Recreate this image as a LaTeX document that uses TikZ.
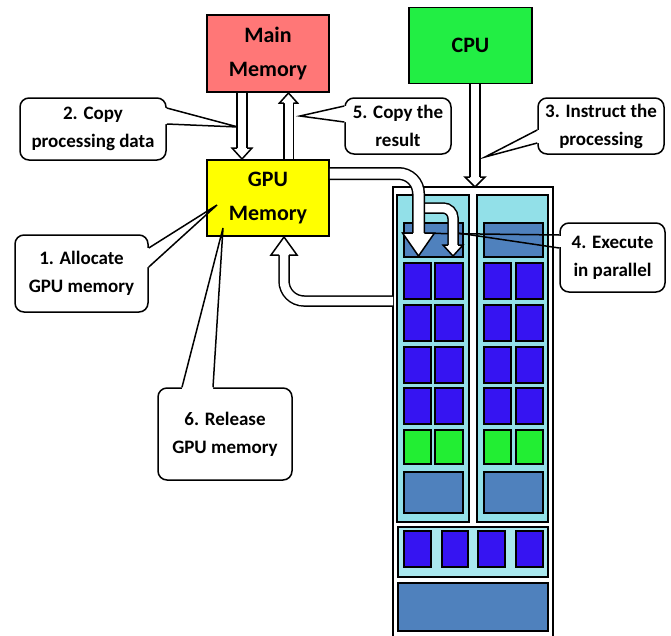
\documentclass[tikz,border=0pt]{standalone}
\usepackage{fontspec}
\setmainfont{Carlito}
\usetikzlibrary{calc}
\definecolor{mainred}{HTML}{FF7777}
\definecolor{gpuyellow}{HTML}{FFFF00}
\definecolor{cpugreen}{HTML}{22EE44}
\definecolor{smcyan}{HTML}{92E0E8}
\definecolor{lightcyan}{HTML}{AAE8EE}
\definecolor{steel}{HTML}{4F81BD}
\definecolor{coreblue}{HTML}{3614F2}
\definecolor{coregreen}{HTML}{22EE33}
\newcommand\ptrfill[4]{\fill[white] ($(#1)+(#4)$) -- (#1) -- (#3) -- (#2) -- ($(#2)+(#4)$) -- cycle;}
\newcommand\ptrline[3]{\draw[ptr] (#1) -- (#3) -- (#2);}
\begin{document}
\begin{tikzpicture}[x=1pt,y=-1pt,
  membox/.style={draw, line width=1.8pt, inner sep=0pt, align=center,
    font=\fontsize{22}{34}\selectfont\bfseries},
  callbox/.style={draw, line width=1.5pt, rounded corners=9pt, fill=white,
    inner sep=0pt, align=center, font=\fontsize{19}{28}\selectfont\bfseries},
  ptr/.style={line width=1.5pt, line join=miter},
  part/.style={draw, line width=1.6pt},
  shaft/.style={draw=black, line width=1.5pt, double=white, double distance=#1},
  headtip/.style={fill=white, draw=black, line width=1.5pt, line join=miter},
]
\useasboundingbox (0,0) rectangle (671,635);

% ---------- callout boxes ----------
\node[callbox, minimum width=146pt, minimum height=62pt] (c2) at (93,129) {2. Copy\\processing data};
\node[callbox, minimum width=106pt, minimum height=56pt] (c5) at (398,126) {5. Copy the\\result};
\node[callbox, minimum width=126pt, minimum height=56pt] (c3) at (601,126) {3. Instruct the\\processing};
\node[callbox, minimum width=105pt, minimum height=69pt] (c4) at (612.5,257.5) {4. Execute\\in parallel};
\node[callbox, minimum width=133pt, minimum height=77pt] (c1) at (81.5,273.5) {1. Allocate\\GPU memory};
\node[callbox, minimum width=134pt, minimum height=92pt] (c6) at (225,434) {6. Release\\GPU memory};

% pointer geometry
\coordinate (c2a) at ($(c2.east)+(0,-21)$);  \coordinate (c2b) at ($(c2.east)+(0,-5)$);  \coordinate (t2) at (238,127);
\coordinate (c5a) at ($(c5.west)+(0,-20)$);  \coordinate (c5b) at ($(c5.west)+(0,-4)$);  \coordinate (t5) at (300,116);
\coordinate (c3a) at ($(c3.west)+(0,4)$);    \coordinate (c3b) at ($(c3.west)+(0,17)$);  \coordinate (t3) at (485,157);
\coordinate (c1a) at ($(c1.east)+(0,-25.5)$);\coordinate (c1b) at ($(c1.east)+(0,-6.5)$); \coordinate (t1) at (217,205);
\coordinate (c6a) at ($(c6.north)+(-43,0)$); \coordinate (c6b) at ($(c6.north)+(-12,0)$); \coordinate (t6) at (223,228);
\coordinate (c4a) at ($(c4.west)+(0,-22.5)$);\coordinate (c4b) at ($(c4.west)+(0,-9.5)$);
\coordinate (t4a) at (402,233); \coordinate (t4b) at (458,233);

\ptrfill{c2a}{c2b}{t2}{-3,0}
\ptrfill{c5a}{c5b}{t5}{3,0}
\ptrfill{c3a}{c3b}{t3}{3,0}
\ptrfill{c1a}{c1b}{t1}{-3,0}
\ptrfill{c6a}{c6b}{t6}{0,3}
\fill[white] ($(c4a)+(-2,1)$) rectangle ($(c4b)+(3,-1)$);

% ---------- memory / CPU boxes ----------
\node[membox, fill=mainred, minimum width=122pt, minimum height=77pt] (main) at (268,53.5) {Main\\Memory};
\node[membox, fill=gpuyellow, minimum width=122pt, minimum height=76pt] (gpu) at (268,198) {GPU\\Memory};
\node[membox, fill=cpugreen, minimum width=123pt, minimum height=76pt] (cpu) at (470.5,45.5) {CPU};

% ---------- GPU chip ----------
\draw[line width=1.8pt] (393,640) -- (393,187) -- (553,187) -- (553,640);
\draw[part, fill=smcyan] (397,195) rectangle (469,522);
\draw[part, fill=smcyan] (477,195) rectangle (548,522);
\draw[part, fill=steel] (404,223) rectangle (463,257);
\draw[part, fill=steel] (484,223) rectangle (543,257);
\foreach \y in {263,305,347,388} {
  \foreach \x/\w in {404/431,435/463,484/511,516/543} {
    \draw[part, fill=coreblue] (\x,\y) rectangle (\w,\y+36);
  }
}
\foreach \x/\w in {404/431,435/463,484/511,516/543} {
  \draw[part, fill=coregreen] (\x,430) rectangle (\w,464);
}
\draw[part, fill=steel] (404,472) rectangle (463,513);
\draw[part, fill=steel] (484,472) rectangle (543,513);
\draw[part, fill=lightcyan] (398,527) rectangle (548,577);
\foreach \x/\w in {404/431,442/468,478/505,516/543} {
  \draw[part, fill=coreblue] (\x,531) rectangle (\w,567);
}
\draw[part, fill=steel] (398,583) rectangle (548,631);

% ---------- pointer lines ----------
\ptrline{c2a}{c2b}{t2}
\ptrline{c5a}{c5b}{t5}
\ptrline{c3a}{c3b}{t3}
\ptrline{c1a}{c1b}{t1}
\ptrline{c6a}{c6b}{t6}
\draw[ptr] (c4a) -- (t4a);
\draw[ptr] (c4b) -- (t4b);

% ---------- block arrows ----------
% Main memory -> GPU memory
\coordinate (a1s) at ($(main.south)+(-26,0)$);
\draw[shaft=8.5pt] (a1s) -- (242,148);
\filldraw[headtip] (237,148) -- (232,148) -- (242,159) -- (252,148) -- (247,148);
% GPU memory -> Main memory
\coordinate (a2s) at ($(gpu.north)+(20.5,0)$);
\draw[shaft=8pt] (a2s) -- (288.5,103);
\filldraw[headtip] (283.75,103) -- (279.5,103) -- (288.5,93) -- (297.5,103) -- (293.25,103);
% CPU -> chip
\coordinate (a3s) at ($(cpu.south)+(4.5,0)$);
\draw[shaft=8.5pt] (a3s) -- (475,177);
\filldraw[headtip] (470,177) -- (465,177) -- (475,187) -- (485,177) -- (480,177);
% small branch arrow
\draw[shaft=8.5pt, rounded corners=10pt] (418.5,208) -- (453,208) -- (453,245);
\filldraw[headtip] (448,245) -- (443,245) -- (453,256) -- (463,245) -- (458,245);
% GPU memory -> chip
\coordinate (a4s) at ($(gpu.east)+(0,-24.5)$);
\draw[shaft=10pt, rounded corners=20pt] (a4s) -- (418.5,173.5) -- (418.5,233);
\filldraw[headtip] (412.75,233) -- (402.5,233) -- (418.5,256) -- (434.5,233) -- (424.25,233);
% chip -> GPU memory
\coordinate (a5s) at (393,301);
\draw[shaft=8.5pt, rounded corners=20pt] (a5s) -- (284,301) -- (284,255);
\filldraw[headtip] (279,255) -- (271,255) -- (284,237) -- (297,255) -- (289,255);
\end{tikzpicture}
\end{document}
